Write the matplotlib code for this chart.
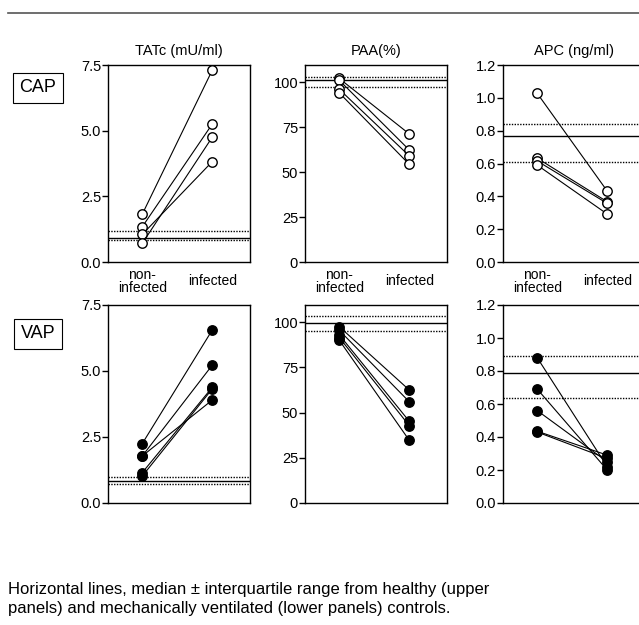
import numpy as np
import matplotlib
matplotlib.use('Agg')
from matplotlib import pyplot as plt

plt.rcParams['font.family'] = ['Liberation Sans Narrow', 'Liberation Sans', 'DejaVu Sans']

# column titles and row labels
titles = ['TATc (mU/ml)', 'PAA(%)', 'APC (ng/ml)']
rows = ['CAP', 'VAP']
groups = ['non-\ninfected', 'infected']

# CAP (open circles)
tat_cap_non = [1.82, 1.34, 1.05, 0.71]
tat_cap_inf = [7.30, 5.25, 3.82, 4.75]
paa_cap_non = [102.0, 101.0, 96.0, 94.0]
paa_cap_inf = [71.2, 62.3, 59.0, 54.3]
apc_cap_non = [1.027, 0.632, 0.615, 0.590]
apc_cap_inf = [0.432, 0.367, 0.357, 0.292]

# VAP (filled circles)
tat_vap_non = [2.25, 1.78, 1.78, 1.15, 1.02]
tat_vap_inf = [6.55, 5.22, 3.90, 4.38, 4.32]
paa_vap_non = [97.5, 95.5, 93.0, 91.5, 90.0]
paa_vap_inf = [62.5, 56.0, 45.2, 42.8, 34.7]
apc_vap_non = [0.88, 0.69, 0.56, 0.435, 0.43]
apc_vap_inf = [0.22, 0.20, 0.25, 0.29, 0.27]

# controls: median, q1, q3
tat_cap_ref = [0.92, 0.82, 1.17]
paa_cap_ref = [100.9, 97.5, 102.7]
apc_cap_ref = [0.767, 0.609, 0.84]
tat_vap_ref = [0.82, 0.71, 1.0]
paa_vap_ref = [99.6, 95.3, 103.3]
apc_vap_ref = [0.786, 0.635, 0.891]

ylims = [(0, 7.5), (0, 109.5), (0, 1.2)]
yticks = [[0, 2.5, 5.0, 7.5], [0, 25, 50, 75, 100], [0, 0.2, 0.4, 0.6, 0.8, 1.0, 1.2]]
yfmt = ['%.1f', '%d', '%.1f']

data = [
    [(tat_cap_non, tat_cap_inf, tat_cap_ref), (paa_cap_non, paa_cap_inf, paa_cap_ref), (apc_cap_non, apc_cap_inf, apc_cap_ref)],
    [(tat_vap_non, tat_vap_inf, tat_vap_ref), (paa_vap_non, paa_vap_inf, paa_vap_ref), (apc_vap_non, apc_vap_inf, apc_vap_ref)],
]

W, H = 639, 625
fig = plt.figure(figsize=(W / 100, H / 100), dpi=100)

lefts = [108, 305, 503]
tops = [65, 305]
bottoms = [262, 503]
pw = 142

for r in range(2):
    for c in range(3):
        ax = fig.add_axes([lefts[c] / W, 1 - bottoms[r] / H, pw / W, (bottoms[r] - tops[r]) / H])
        non, inf, ref = data[r][c]
        face = 'white' if r == 0 else 'black'
        for a, b in zip(non, inf):
            ax.plot([0, 1], [a, b], color='black', lw=0.8, marker='o', ms=6.8,
                    mfc=face, mec='black', mew=1.0, zorder=3, clip_on=False)
        ax.axhline(ref[0], color='black', lw=1.0, zorder=1)
        ax.axhline(ref[1], color='black', lw=1.0, ls=(0, (1, 1)), zorder=1)
        ax.axhline(ref[2], color='black', lw=1.0, ls=(0, (1, 1)), zorder=1)
        ax.set_xlim(-0.49, 1.54)
        ax.set_ylim(*ylims[c])
        ax.set_yticks(yticks[c])
        ax.set_yticklabels([yfmt[c] % v for v in yticks[c]], fontsize=10.5)
        ax.tick_params(axis='y', direction='out', length=4, width=1, pad=1)
        for s in ax.spines.values():
            s.set_linewidth(1.0)
        if r == 0:
            ax.set_xticks([0, 1])
            ax.set_xticklabels(groups, fontsize=10, linespacing=0.95, va='center')
            ax.tick_params(axis='x', length=0, pad=14)
            ax.set_title(titles[c], fontsize=10.5, pad=7)
        else:
            ax.set_xticks([])

# row labels in boxes
for r, yc in zip(range(2), [88, 334]):
    fig.text(38 / W, 1 - yc / H, rows[r], fontsize=13, ha='center', va='center',
             bbox=dict(boxstyle='square,pad=0.35', fc='white', ec='black', lw=0.8))

# rule at the top
fig.add_artist(plt.Line2D([8 / W, 1], [1 - 13 / H, 1 - 13 / H], color='#555555', lw=1.2))

fig.text(8 / W, 1 - 599 / H,
         'Horizontal lines, median \u00b1 interquartile range from healthy (upper\n'
         'panels) and mechanically ventilated (lower panels) controls.',
         fontsize=12, ha='left', va='center', linespacing=1.4)

fig.savefig('out.png', dpi=100)
